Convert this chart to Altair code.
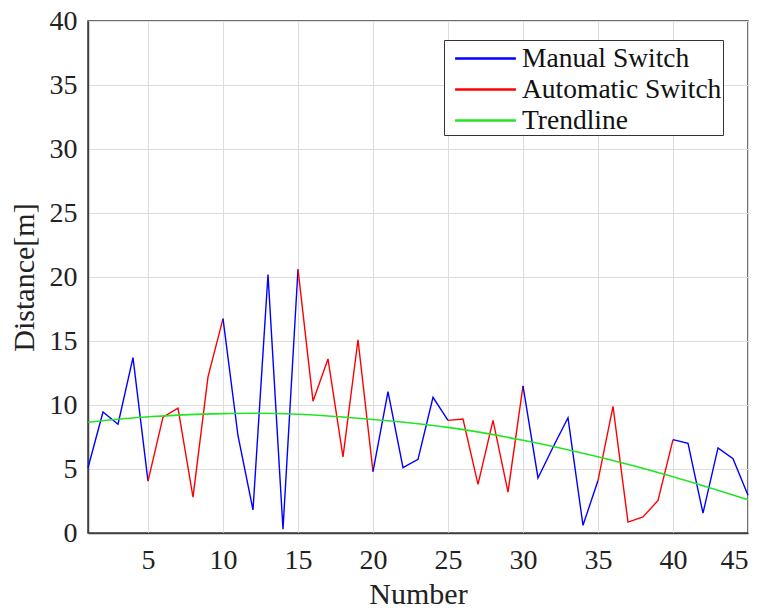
import altair as alt
import pandas as pd

# Measured distance per trial number
numbers = list(range(1, 46))
distance = [5.1, 9.45, 8.5, 13.7, 4.05, 9.05, 9.75, 2.8, 12.2, 16.75,
            7.6, 1.8, 20.2, 0.3, 20.6, 10.3, 13.6, 5.95, 15.1, 4.8,
            11.05, 5.1, 5.75, 10.6, 8.8, 8.9, 3.8, 8.8, 3.2, 11.5,
            4.3, 6.7, 9.0, 0.6, 4.1, 9.9, 0.85, 1.25, 2.55, 7.3,
            7.0, 1.55, 6.65, 5.8, 2.95]

# Segment boundaries and the switching mode of each segment
seg_bounds = [1, 5, 10, 15, 20, 25, 30, 35, 40, 45]
seg_modes = ["Manual Switch", "Automatic Switch"] * 4 + ["Manual Switch"]
seg_modes = seg_modes[:len(seg_bounds) - 1]

# Trendline sampled along the x range
trend_x = [1, 5, 10, 12, 15, 20, 25, 30, 35, 40, 45]
trend_y = [8.65, 9.08, 9.33, 9.36, 9.28, 8.87, 8.25, 7.25, 5.95, 4.4, 2.6]

series_names = ["Manual Switch", "Automatic Switch", "Trendline"]
series_colors = ["#0000ff", "#ff0000", "#22e622"]

rows = []
for i, mode in enumerate(seg_modes):
    for n in range(seg_bounds[i], seg_bounds[i + 1] + 1):
        rows.append({"Number": n, "Distance": distance[n - 1],
                     "Series": mode, "seg": i})
df = pd.DataFrame(rows)
trend_df = pd.DataFrame({"Number": trend_x, "Distance": trend_y,
                         "Series": "Trendline"})

font = "Liberation Serif"

x_enc = alt.X("Number:Q", scale=alt.Scale(domain=[1, 45], nice=False, zero=False),
              axis=alt.Axis(values=[5, 10, 15, 20, 25, 30, 35, 40, 45],
                            title="Number", format="d"))
y_enc = alt.Y("Distance:Q", scale=alt.Scale(domain=[0, 40], nice=False),
              axis=alt.Axis(values=[0, 5, 10, 15, 20, 25, 30, 35, 40],
                            title="Distance[m]"))
color_enc = alt.Color("Series:N",
                      scale=alt.Scale(domain=series_names, range=series_colors),
                      legend=alt.Legend(title=None, orient="none",
                                        legendX=356, legendY=19,
                                        symbolType="M-1.9,0H1.9", symbolSize=1024,
                                        symbolStrokeWidth=2.5,
                                        symbolOffset=23,
                                        labelFont=font, labelFontSize=27.5,
                                        labelLimit=500,
                                        labelColor="#111111",
                                        rowPadding=0, padding=1,
                                        labelOffset=19,
                                        strokeColor="#333333",
                                        fillColor="white"))

data_lines = alt.Chart(df).mark_line(strokeWidth=1.4).encode(
    x=x_enc, y=y_enc, color=color_enc, detail="seg:N",
    order="Number:Q")

trend_line = alt.Chart(trend_df).mark_line(
    strokeWidth=1.6, interpolate="monotone").encode(
    x="Number:Q", y="Distance:Q", color=alt.Color("Series:N"))

chart = alt.layer(data_lines, trend_line).properties(
    width=660, height=512,
    autosize=alt.AutoSizeParams(type="none"),
    padding={"left": 88, "top": 21, "right": 19, "bottom": 80},
    background="white",
).configure_view(
    stroke="#404040", strokeWidth=1.5
).configure_axis(
    labelFont=font, titleFont=font, labelFontSize=28, titleFontSize=30,
    titleFontWeight="normal", labelColor="#222222", titleColor="#222222",
    domainColor="#404040", domainWidth=1.5, tickColor="#404040",
    tickSize=0, gridColor="#dedede", gridWidth=1,
).configure_axisX(
    labelPadding=13, titlePadding=5
).configure_axisY(
    labelPadding=11, titlePadding=10
)

chart.save("out.html", embed_options={"renderer": "svg", "actions": False})
